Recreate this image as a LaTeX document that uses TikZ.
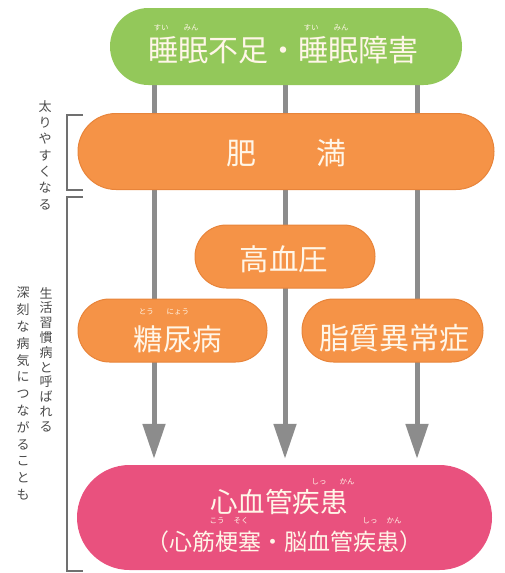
\documentclass[tikz,border=0pt]{standalone}
\usepackage{fontspec}
\setmainfont{Noto Sans CJK JP}
\usetikzlibrary{arrows.meta,backgrounds,calc}
\definecolor{grn}{HTML}{93C85A}
\definecolor{org}{HTML}{F59347}
\definecolor{orgd}{HTML}{E8843A}
\definecolor{pnk}{HTML}{E9517E}
\definecolor{arr}{HTML}{8C8C8C}
\definecolor{txt}{HTML}{FFF6E8}
\definecolor{brk}{HTML}{707070}
\definecolor{side}{HTML}{4A4A4A}
\begin{document}
\begin{tikzpicture}[x=1pt,y=-1pt,
  pill/.style={rectangle,inner sep=0pt},
  lbl/.style={inner sep=0pt,text=txt,anchor=center},
  rb/.style={inner sep=0pt,text=txt,font=\fontsize{7.5}{8}\selectfont},
  conn/.style={draw=arr,line width=5pt,-{Triangle[width=22pt,length=35pt]},shorten >=6pt},
  brack/.style={draw=brk,line width=1.4pt},
  vtext/.style={inner sep=0pt,text=side,align=center}]
\useasboundingbox (0,0) rectangle (504,573);

% boxes
\node[pill,fill=grn,minimum width=352pt,minimum height=77pt,rounded corners=38.5pt] (sleep) at (286,46.5) {};
\node[pill,fill=org,draw=orgd,line width=1pt,minimum width=416pt,minimum height=76pt,rounded corners=38pt] (obese) at (286,151.5) {};
\node[pill,fill=org,draw=orgd,line width=1pt,minimum width=180pt,minimum height=63pt,rounded corners=31.5pt] (bp) at (285,256.5) {};
\node[pill,fill=org,draw=orgd,line width=1pt,minimum width=189pt,minimum height=63pt,rounded corners=31.5pt] (dm) at (172.5,330.5) {};
\node[pill,fill=org,draw=orgd,line width=1pt,minimum width=181pt,minimum height=63pt,rounded corners=31.5pt] (lip) at (392.5,330.5) {};
\node[pill,fill=pnk,minimum width=415pt,minimum height=105pt,rounded corners=52.5pt] (cvd) at (284.5,517.5) {};

% connectors behind boxes
\coordinate (c1) at (154,85);
\coordinate (c2) at (285,85);
\coordinate (c3) at (417,85);
\begin{scope}[on background layer]
\draw[conn] (c1) -- (c1 |- cvd.north);
\draw[conn] (c2) -- (c2 |- cvd.north);
\draw[conn] (c3) -- (c3 |- cvd.north);
\end{scope}

% labels
\node[lbl,font=\fontsize{30}{32}\selectfont] (tsleep) at (283,50) {睡眠不足・睡眠障害};
\node[rb] (r1) at (176,28) {すい\hspace{15pt}みん};
\node[rb] (r2) at (326,28) {すい\hspace{15pt}みん};

\node[lbl,font=\fontsize{30}{32}\selectfont] (tobese) at (286,153) {肥　　満};
\node[lbl,font=\fontsize{29.5}{31}\selectfont] (tbp) at (284,259) {高血圧};
\node[lbl,font=\fontsize{29.5}{31}\selectfont] (tdm) at (178,339) {糖尿病};
\node[rb] (r3) at (164,312) {とう\hspace{13pt}にょう};
\node[lbl,font=\fontsize{30}{32}\selectfont] (tlip) at (394,338) {脂質異常症};

\node[lbl,font=\fontsize{27.5}{29}\selectfont] (tcvd1) at (279,502) {心血管疾患};
\node[rb] (r4) at (333,482) {しっ\hspace{13pt}かん};
\node[lbl,font=\fontsize{23}{25}\selectfont] (tcvd2) at (284,542) {（心筋梗塞・脳血管疾患）};
\node[rb] (r5) at (229,521) {こう\hspace{9pt}そく};
\node[rb] (r6) at (382,521) {しっ\hspace{9pt}かん};

% brackets
\draw[brack] (83,115) -- (67,115) -- (67,190) -- (83,190);
\draw[brack] (83,197) -- (67,197) -- (67,571) -- (83,571);

% side texts
\node[vtext,font=\fontsize{13}{16.3}\selectfont] (s1) at (45,155) {太\\り\\や\\す\\く\\な\\る};
\node[vtext,font=\fontsize{13}{14.8}\selectfont,anchor=north] (s2) at (46,287) {生\\活\\習\\慣\\病\\と\\呼\\ば\\れ\\る};
\node[vtext,font=\fontsize{13}{16.8}\selectfont,anchor=north] (s3) at (23,287) {深\\刻\\な\\病\\気\\に\\つ\\な\\が\\る\\こ\\と\\も};
\end{tikzpicture}
\end{document}
